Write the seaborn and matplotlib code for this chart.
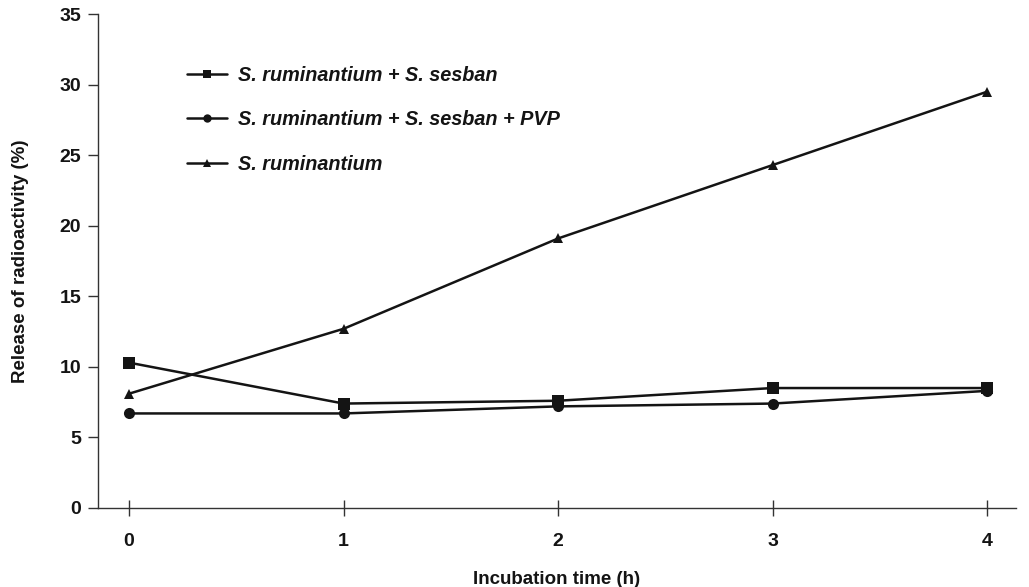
import matplotlib
matplotlib.use("Agg")
import matplotlib.pyplot as plt
import seaborn as sns
import pandas as pd

# Incubation times (h) and radioactivity release (%) per treatment
hours = [0, 1, 2, 3, 4]
sesban = [10.3, 7.4, 7.6, 8.5, 8.5]
sesban_pvp = [6.7, 6.7, 7.2, 7.4, 8.3]
rumin_only = [8.1, 12.7, 19.1, 24.3, 29.5]

labels = [
    "S. ruminantium + S. sesban",
    "S. ruminantium + S. sesban + PVP",
    "S. ruminantium",
]
y_ticks = [0, 5, 10, 15, 20, 25, 30, 35]

df = pd.DataFrame({
    "time": hours * 3,
    "release": sesban + sesban_pvp + rumin_only,
    "group": [labels[0]] * 5 + [labels[1]] * 5 + [labels[2]] * 5,
})

sns.set_style("ticks")
plt.rcParams["font.family"] = ["Liberation Sans", "DejaVu Sans"]

fig = plt.figure(figsize=(10.29, 5.87), dpi=100)
ax = fig.add_axes([0.0952, 0.1346, 0.8922, 0.8414])

ink = "#141414"
marker_map = {labels[0]: "s", labels[1]: "o", labels[2]: "^"}
sns.lineplot(
    data=df, x="time", y="release", hue="group", style="group",
    hue_order=labels, style_order=labels,
    palette=[ink] * 3, markers=marker_map, dashes=False,
    linewidth=1.8, markersize=8, markeredgewidth=0, ax=ax, legend=True,
)
# triangle markers are drawn a bit smaller
for line in ax.get_lines():
    if line.get_marker() == "^":
        line.set_markersize(7)

ax.set_xlim(-0.145, 4.135)
ax.set_ylim(0, 35)
ax.set_xticks(hours)
ax.set_yticks(y_ticks)
ax.tick_params(axis="x", direction="inout", length=12, width=1, colors="#333333",
               labelcolor=ink, labelsize=14, pad=12)
ax.tick_params(axis="y", direction="out", length=7, width=1, colors="#333333",
               labelcolor=ink, labelsize=14, pad=5)
for t in ax.get_xticklabels() + ax.get_yticklabels():
    t.set_fontweight("bold")

for side in ("top", "right"):
    ax.spines[side].set_visible(False)
for side in ("left", "bottom"):
    ax.spines[side].set_color("#333333")
    ax.spines[side].set_linewidth(1.0)

ax.set_xlabel("Incubation time (h)", fontsize=13.5, fontweight="bold",
              labelpad=15, color=ink)
ax.set_ylabel("Release of radioactivity (%)", fontsize=13.5, fontweight="bold",
              labelpad=22, color=ink)

leg = ax.legend(
    loc="upper left", bbox_to_anchor=(0.078, 0.932), frameon=False,
    handlelength=2.0, handletextpad=0.55, labelspacing=1.3, markerscale=0.75,
    prop={"weight": "bold", "style": "italic", "size": 14.3},
)
for txt in leg.get_texts():
    txt.set_color(ink)

fig.savefig("out.png", dpi=100)
